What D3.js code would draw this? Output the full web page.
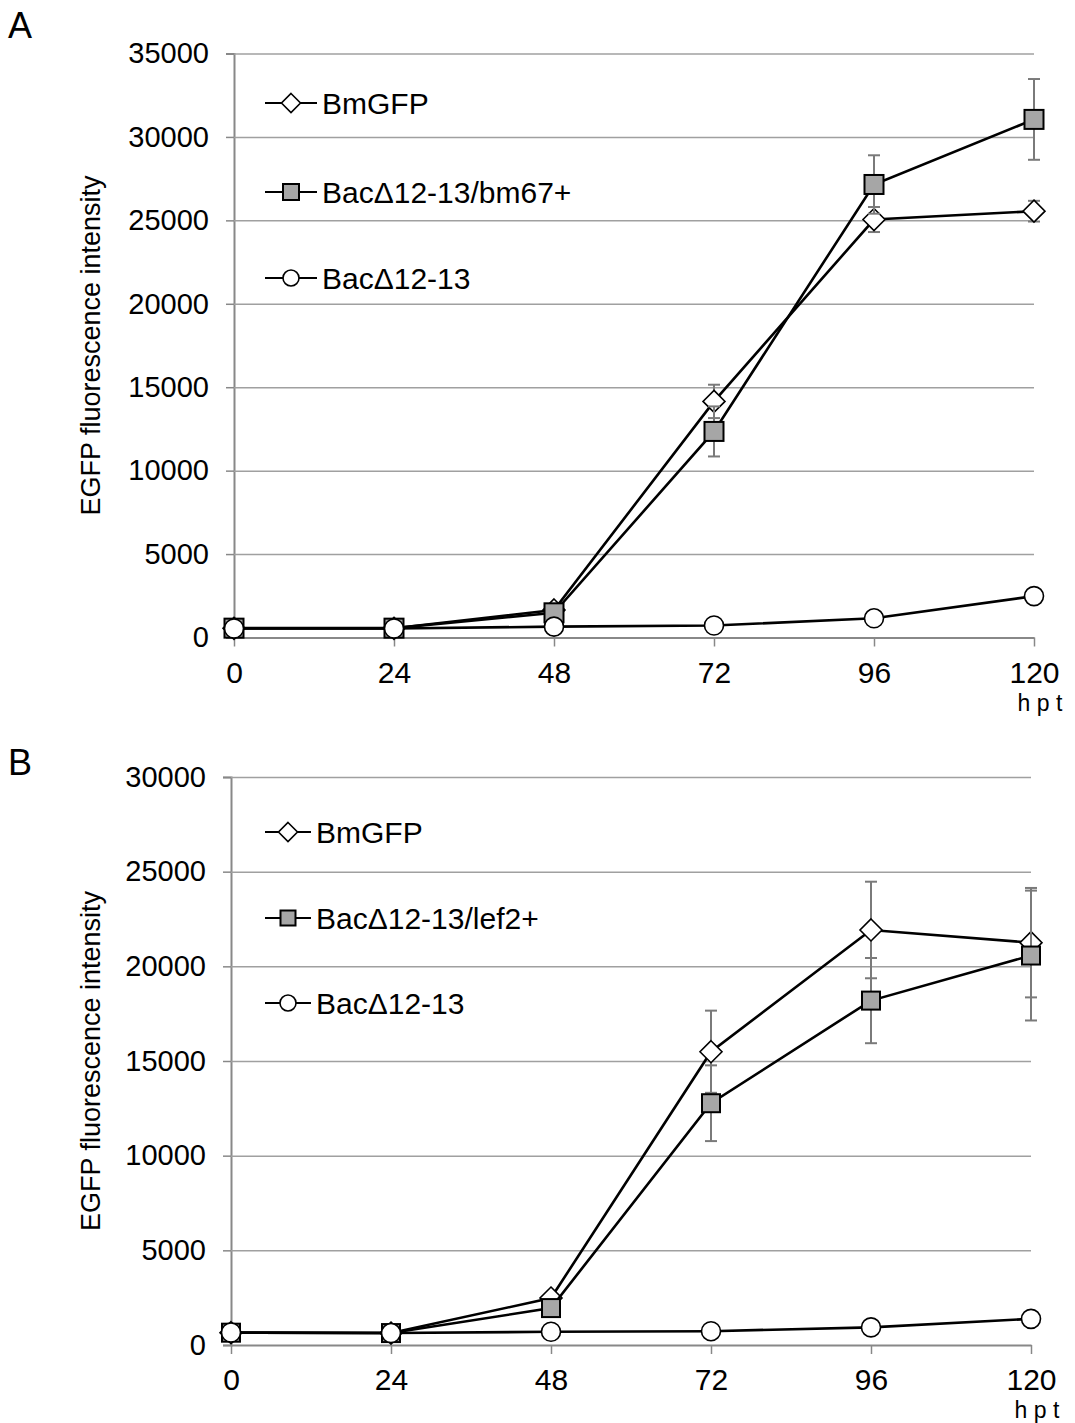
<!DOCTYPE html>
<html>
<head>
<meta charset="utf-8">
<script src="https://cdn.jsdelivr.net/npm/d3@7"></script>
<style>
  html, body { margin: 0; padding: 0; background: #fff; }
  svg { display: block; font-family: "Liberation Sans", Arial, sans-serif; }
</style>
</head>
<body>
<svg id="fig" width="1075" height="1423"></svg>
<script>
// Hours post transfection
const hours = [0, 24, 48, 72, 96, 120];
const hourTicks = [0, 24, 48, 72, 96, 120];

// Panel A: EGFP fluorescence intensity
const bmgfpA = [550, 550, 1650, 14150, 25050, 25550];
const bmgfpAErr = [60, 60, 120, 1000, 750, 620];
const bm67A = [560, 560, 1480, 12350, 27150, 31050];
const bm67AErr = [60, 60, 120, 1500, 1750, 2420];
const bacA = [540, 540, 650, 720, 1150, 2480];
const yTicksA = [0, 5000, 10000, 15000, 20000, 25000, 30000, 35000];

// Panel B: EGFP fluorescence intensity
const bmgfpB = [650, 630, 2480, 15490, 21920, 21250];
const bmgfpBErr = [60, 60, 150, 2170, 2550, 2890];
const lef2B = [650, 630, 1950, 12770, 18190, 20570];
const lef2BErr = [60, 60, 150, 2000, 2250, 3430];
const bacB = [660, 630, 700, 730, 930, 1380];
const yTicksB = [0, 5000, 10000, 15000, 20000, 25000, 30000];

const seriesNamesA = ["BmGFP", "BacΔ12-13/bm67+", "BacΔ12-13"];
const seriesNamesB = ["BmGFP", "BacΔ12-13/lef2+", "BacΔ12-13"];

const svg = d3.select("#fig");
const GRID = "#a0a0a0";
const AXIS = "#888888";
const ERR = "#7a7a7a";
const SQFILL = "#a6a6a6";

function drawMarker(g, shape, x, y, size) {
  if (shape === "diamond") {
    const r = size / 2;
    g.append("path")
      .attr("d", `M${x},${y - r}L${x + r},${y}L${x},${y + r}L${x - r},${y}Z`)
      .attr("fill", "#fff").attr("stroke", "#000").attr("stroke-width", 1.6);
  } else if (shape === "square") {
    g.append("rect")
      .attr("x", x - size / 2).attr("y", y - size / 2)
      .attr("width", size).attr("height", size)
      .attr("fill", SQFILL).attr("stroke", "#000").attr("stroke-width", 2);
  } else {
    g.append("circle")
      .attr("cx", x).attr("cy", y).attr("r", size / 2)
      .attr("fill", "#fff").attr("stroke", "#000").attr("stroke-width", 1.6);
  }
}

function drawPanel(p) {
  const x = d3.scaleLinear().domain([0, 120]).range([p.left, p.right]);
  const y = d3.scaleLinear().domain([0, p.yMax]).range([p.bottom, p.top]);
  const g = svg.append("g");

  // horizontal gridlines + y ticks
  const yAxis = g.append("g")
    .attr("transform", `translate(${p.left},0)`)
    .call(d3.axisLeft(y).tickValues(p.yTicks).tickSize(8).tickPadding(17).tickFormat(d3.format("d")));
  yAxis.select(".domain").attr("stroke", AXIS).attr("stroke-width", 2);
  yAxis.selectAll(".tick line").attr("stroke", AXIS).attr("stroke-width", 1.5);
  yAxis.selectAll(".tick text").attr("font-size", 29).attr("fill", "#000")
    .attr("font-family", "Liberation Sans, Arial, sans-serif");
  yAxis.selectAll(".tick").filter(d => d > 0).append("line")
    .attr("x1", 0).attr("x2", p.right - p.left)
    .attr("stroke", GRID).attr("stroke-width", 1.5);

  // x axis
  const xAxis = g.append("g")
    .attr("transform", `translate(0,${p.bottom})`)
    .call(d3.axisBottom(x).tickValues(hourTicks).tickSize(9).tickPadding(15).tickSizeOuter(0));
  xAxis.select(".domain").attr("stroke", AXIS).attr("stroke-width", 2);
  xAxis.selectAll(".tick line").attr("stroke", AXIS).attr("stroke-width", 1.5);
  xAxis.selectAll(".tick text").attr("font-size", 30).attr("fill", "#000")
    .attr("font-family", "Liberation Sans, Arial, sans-serif");

  g.append("text")
    .attr("x", p.right + 6).attr("y", p.bottom + 73)
    .attr("text-anchor", "middle").attr("font-size", 23)
    .text("h p t");

  // y title
  g.append("text")
    .attr("transform", `translate(${p.titleX},${(p.top + p.bottom) / 2}) rotate(-90)`)
    .attr("text-anchor", "middle").attr("font-size", 27)
    .text("EGFP fluorescence intensity");

  // panel letter
  g.append("text")
    .attr("x", 8).attr("y", p.letterY)
    .attr("font-size", 36).text(p.letter);

  // series
  const line = d3.line().x((d, i) => x(hours[i])).y(d => y(d));
  p.series.forEach(s => {
    const sg = g.append("g");
    if (s.err) {
      s.values.forEach((v, i) => {
        const e = s.err[i];
        const cx = x(hours[i]);
        sg.append("line").attr("x1", cx).attr("x2", cx)
          .attr("y1", y(v - e)).attr("y2", y(v + e))
          .attr("stroke", ERR).attr("stroke-width", 2);
        [v - e, v + e].forEach(ev => {
          sg.append("line").attr("x1", cx - 6).attr("x2", cx + 6)
            .attr("y1", y(ev)).attr("y2", y(ev))
            .attr("stroke", ERR).attr("stroke-width", 2);
        });
      });
    }
    sg.append("path").datum(s.values).attr("d", line)
      .attr("fill", "none").attr("stroke", "#000").attr("stroke-width", 2.6);
    s.values.forEach((v, i) => drawMarker(sg, s.shape, x(hours[i]), y(v), s.size));
  });

  // legend
  p.series.forEach((s, i) => {
    const ly = p.legendY[i];
    g.append("line").attr("x1", p.legendX).attr("x2", p.legendX + p.legendLen)
      .attr("y1", ly).attr("y2", ly).attr("stroke", "#000").attr("stroke-width", 2.2);
    drawMarker(g, s.shape, p.legendX + p.legendLen / 2, ly, s.size - 3);
    g.append("text").attr("x", p.legendX + p.legendLen + 5).attr("y", ly + 11)
      .attr("font-size", 30).text(s.name);
  });
}

drawPanel({
  letter: "A", letterY: 38,
  left: 234, right: 1034, top: 53.5, bottom: 637.5, yMax: 35000, yTicks: yTicksA,
  titleX: 100,
  legendX: 265, legendLen: 52, legendY: [103, 192, 278],
  series: [
    { name: seriesNamesA[0], values: bmgfpA, err: bmgfpAErr, shape: "diamond", size: 22 },
    { name: seriesNamesA[1], values: bm67A, err: bm67AErr, shape: "square", size: 19 },
    { name: seriesNamesA[2], values: bacA, err: null, shape: "circle", size: 19 }
  ]
});

drawPanel({
  letter: "B", letterY: 775,
  left: 231, right: 1031, top: 777, bottom: 1345, yMax: 30000, yTicks: yTicksB,
  titleX: 100,
  legendX: 265, legendLen: 46, legendY: [832, 918, 1003],
  series: [
    { name: seriesNamesB[0], values: bmgfpB, err: bmgfpBErr, shape: "diamond", size: 22 },
    { name: seriesNamesB[1], values: lef2B, err: lef2BErr, shape: "square", size: 18 },
    { name: seriesNamesB[2], values: bacB, err: null, shape: "circle", size: 19 }
  ]
});
</script>
</body>
</html>
